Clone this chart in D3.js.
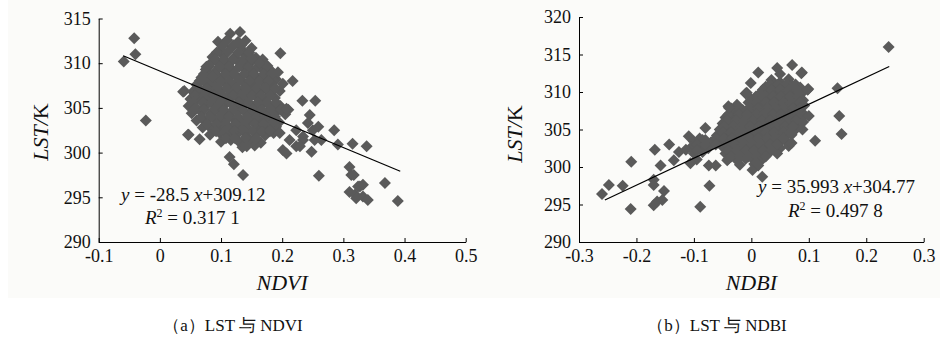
<!DOCTYPE html>
<html><head><meta charset="utf-8">
<script src="https://cdn.jsdelivr.net/npm/d3@7"></script>
<style>
html,body{margin:0;padding:0;background:#fff;}
svg{display:block;font-family:"Liberation Serif",serif;}
svg text, svg tspan{font-family:"Liberation Serif",serif !important;}
</style></head>
<body>
<svg id="chart" width="946" height="341" font-family="Liberation Serif"></svg>
<script>
// ---------- data ----------
const ndviXTicks = [-0.1, 0, 0.1, 0.2, 0.3, 0.4, 0.5];
const ndviXTickLabels = ["-0.1", "0", "0.1", "0.2", "0.3", "0.4", "0.5"];
const ndviYTicks = [290, 295, 300, 305, 310, 315];
const ndbiXTicks = [-0.3, -0.2, -0.1, 0, 0.1, 0.2, 0.3];
const ndbiXTickLabels = ["-0.3", "-0.2", "-0.1", "0", "0.1", "0.2", "0.3"];
const ndbiYTicks = [290, 295, 300, 305, 310, 315, 320];

const ndviFit = {slope: -28.5, intercept: 309.12, from: -0.06, to: 0.393};
const ndbiFit = {slope: 35.993, intercept: 304.77, from: -0.255, to: 0.24};

const ndviPoints = [
 [0.115,313.3],[0.131,313.5],
 [0.095,312.4],[0.11,312.6],[0.127,312.2],[0.14,312.5],
 [0.1,311.5],[0.118,311.8],[0.136,311.4],[0.15,311.7],
 [0.086,310.7],[0.104,310.9],[0.121,310.6],[0.141,310.9],[0.157,310.6],
 [0.082,309.9],[0.096,310.1],[0.112,309.8],[0.128,310.2],[0.145,309.9],[0.163,310.0],[0.176,309.7],
 [0.075,309.3],[0.09,309.0],[0.105,309.3],[0.12,309.1],[0.138,309.4],[0.152,309.0],[0.168,309.3],[0.184,309.0],
 [0.068,308.4],[0.083,308.6],[0.098,308.3],[0.115,308.5],[0.13,308.2],[0.146,308.6],[0.16,308.3],[0.177,308.5],[0.19,308.2],
 [0.06,307.6],[0.075,307.8],[0.09,307.5],[0.107,307.7],[0.122,307.4],[0.139,307.7],[0.155,307.5],[0.17,307.8],[0.186,307.4],
 [0.054,306.8],[0.068,307.0],[0.085,306.7],[0.1,306.9],[0.117,306.6],[0.133,306.9],[0.149,306.7],[0.165,306.9],[0.18,306.6],[0.196,306.9],
 [0.05,306.0],[0.064,306.2],[0.08,305.9],[0.095,306.1],[0.111,305.8],[0.127,306.1],[0.142,305.9],[0.158,306.2],[0.172,305.9],[0.188,306.1],
 [0.047,305.2],[0.06,305.0],[0.076,305.3],[0.092,305.1],[0.107,305.4],[0.122,305.0],[0.137,305.3],[0.153,305.1],[0.168,305.4],[0.182,305.0],[0.197,305.2],
 [0.052,304.4],[0.067,304.6],[0.083,304.3],[0.098,304.5],[0.113,304.2],[0.128,304.6],[0.145,304.3],[0.16,304.5],[0.175,304.2],[0.19,304.5],[0.205,304.3],
 [0.06,303.6],[0.075,303.4],[0.09,303.7],[0.105,303.5],[0.12,303.8],[0.135,303.5],[0.15,303.7],[0.165,303.4],[0.18,303.6],[0.195,303.4],
 [0.07,302.8],[0.085,302.6],[0.1,302.9],[0.115,302.7],[0.13,302.9],[0.145,302.6],[0.16,302.8],[0.175,302.6],[0.19,302.9],
 [0.082,302.0],[0.098,302.2],[0.112,301.9],[0.127,302.1],[0.142,301.8],[0.158,302.1],[0.172,301.9],[0.186,302.2],
 [0.1,301.2],[0.116,301.4],[0.131,301.1],[0.148,301.3],[0.165,301.1],
 [0.135,300.6],[0.155,300.8],
 [0.103,312.0],[0.12,312.0],[0.133,312.0],
 [0.093,311.2],[0.11,311.2],[0.128,311.2],[0.146,311.2],
 [0.09,310.4],[0.105,310.4],[0.12,310.4],[0.136,310.4],[0.152,310.4],[0.168,310.4],
 [0.08,309.6],[0.097,309.6],[0.113,309.6],[0.13,309.6],[0.145,309.6],[0.16,309.6],[0.175,309.6],
 [0.072,308.8],[0.09,308.8],[0.107,308.8],[0.122,308.8],[0.138,308.8],[0.153,308.8],[0.17,308.8],[0.183,308.8],
 [0.065,308.0],[0.082,308.0],[0.099,308.0],[0.114,308.0],[0.13,308.0],[0.147,308.0],[0.163,308.0],[0.178,308.0],
 [0.062,307.2],[0.077,307.2],[0.093,307.2],[0.11,307.2],[0.125,307.2],[0.141,307.2],[0.157,307.2],[0.173,307.2],[0.188,307.2],
 [0.058,306.4],[0.073,306.4],[0.088,306.4],[0.103,306.4],[0.119,306.4],[0.135,306.4],[0.15,306.4],[0.165,306.4],[0.18,306.4],
 [0.055,305.6],[0.07,305.6],[0.085,305.6],[0.1,305.6],[0.115,305.6],[0.13,305.6],[0.145,305.6],[0.16,305.6],[0.175,305.6],[0.19,305.6],
 [0.056,304.8],[0.072,304.8],[0.088,304.8],[0.104,304.8],[0.12,304.8],[0.136,304.8],[0.152,304.8],[0.167,304.8],[0.182,304.8],[0.198,304.8],
 [0.068,304.0],[0.083,304.0],[0.098,304.0],[0.113,304.0],[0.128,304.0],[0.143,304.0],[0.158,304.0],[0.173,304.0],[0.188,304.0],
 [0.078,303.2],[0.093,303.2],[0.108,303.2],[0.123,303.2],[0.14,303.2],[0.155,303.2],[0.17,303.2],[0.185,303.2],
 [0.092,302.4],[0.107,302.4],[0.122,302.4],[0.137,302.4],[0.152,302.4],[0.167,302.4],[0.18,302.4],
 [0.108,301.6],[0.123,301.6],[0.14,301.6],[0.157,301.6],
 [-0.059,310.2],[-0.042,312.8],[-0.04,311.0],[-0.023,303.6],[0.04,306.9],[0.047,302.0],[0.065,301.5],[0.114,299.5],[0.121,298.7],[0.136,297.5],
 [0.197,311.1],[0.193,309.0],[0.201,307.7],[0.217,308.0],[0.233,305.8],[0.254,305.8],[0.21,304.8],[0.245,304.2],[0.259,302.9],[0.285,302.5],
 [0.291,300.9],[0.315,301.0],[0.338,300.7],[0.248,300.1],[0.223,300.7],[0.201,300.3],[0.26,297.4],[0.31,298.4],[0.313,297.5],[0.368,296.6],
 [0.31,295.6],[0.327,296.2],[0.332,295.1],[0.319,295.3],[0.34,294.7],[0.389,294.6],[0.185,308.9],[0.163,310.0],[0.18,302.5],[0.212,301.4],
 [0.234,301.4],[0.264,301.4],[0.242,303.3],[0.25,302.5],[0.196,302.2],[0.207,299.9],[0.142,300.7],[0.038,306.8],[0.046,302.0],[0.207,304.9],
 [0.229,300.7],[0.253,301.4],[0.223,302.5],[0.234,301.8],[0.188,303.6],[0.076,309.6],[0.087,308.5],[0.098,309.6],[0.15,310.5],[0.128,312.4],
 [0.324,296.2],[0.321,294.9],[0.332,296.4],[0.317,297.5]
];

const ndbiPoints = [
 [0.035,311.6],[0.05,311.3],[0.065,311.7],
 [0.025,310.7],[0.04,310.9],[0.055,310.6],[0.07,310.9],[0.085,310.6],
 [-0.008,309.9],[0.015,309.8],[0.03,310.0],[0.045,309.7],[0.06,310.0],[0.075,309.8],[0.09,310.0],
 [0.0,309.0],[0.015,309.2],[0.03,308.9],[0.045,309.1],[0.06,308.9],[0.075,309.2],[0.09,308.9],
 [-0.04,308.1],[-0.025,308.3],[0.005,308.2],[0.02,308.0],[0.035,308.3],[0.05,308.1],[0.065,308.3],[0.08,308.0],[0.092,308.2],
 [-0.03,307.4],[-0.015,307.6],[0.0,307.3],[0.015,307.5],[0.03,307.3],[0.045,307.6],[0.06,307.4],[0.075,307.6],[0.088,307.3],
 [-0.045,306.6],[-0.03,306.4],[-0.015,306.7],[0.0,306.5],[0.015,306.7],[0.03,306.4],[0.045,306.7],[0.06,306.5],[0.075,306.7],[0.088,306.5],
 [-0.05,305.8],[-0.035,306.0],[-0.02,305.7],[-0.005,305.9],[0.01,305.7],[0.025,306.0],[0.04,305.8],[0.055,306.0],[0.07,305.7],[0.082,305.9],
 [-0.055,305.0],[-0.04,305.2],[-0.025,304.9],[-0.01,305.1],[0.005,304.9],[0.02,305.2],[0.035,305.0],[0.05,305.2],[0.065,304.9],[0.078,305.1],
 [-0.06,304.2],[-0.045,304.4],[-0.03,304.1],[-0.015,304.3],[0.0,304.1],[0.015,304.4],[0.03,304.2],[0.045,304.4],[0.06,304.1],[0.07,304.3],
 [-0.1,303.4],[-0.085,303.6],[-0.07,303.3],[-0.055,303.5],[-0.04,303.3],[-0.025,303.6],[-0.01,303.4],[0.005,303.6],[0.02,303.3],[0.035,303.5],[0.05,303.3],[0.06,303.5],
 [-0.105,302.6],[-0.09,302.8],[-0.075,302.5],[-0.05,302.7],[-0.035,302.5],[-0.02,302.8],[-0.005,302.6],[0.01,302.8],[0.025,302.5],[0.04,302.7],[0.05,302.5],
 [-0.1,301.8],[-0.085,302.0],[-0.045,301.8],[-0.03,302.0],[-0.015,301.7],[0.0,301.9],[0.015,301.7],[0.03,302.0],[0.045,301.8],
 [-0.095,301.0],[-0.04,301.1],[-0.025,300.9],[-0.01,301.1],[0.005,300.9],[0.02,301.1],
 [-0.02,300.3],[0.005,300.4],[0.012,300.2],
 [0.032,311.0],[0.047,311.0],[0.062,311.0],[0.077,311.0],
 [0.02,310.3],[0.035,310.3],[0.05,310.3],[0.065,310.3],[0.08,310.3],
 [0.008,309.4],[0.022,309.4],[0.037,309.4],[0.052,309.4],[0.067,309.4],[0.082,309.4],
 [-0.005,308.6],[0.01,308.6],[0.025,308.6],[0.04,308.6],[0.055,308.6],[0.07,308.6],[0.085,308.6],
 [-0.035,307.8],[-0.02,307.8],[-0.005,307.8],[0.012,307.8],[0.027,307.8],[0.042,307.8],[0.057,307.8],[0.072,307.8],[0.085,307.8],
 [-0.04,307.0],[-0.022,307.0],[-0.007,307.0],[0.008,307.0],[0.022,307.0],[0.037,307.0],[0.052,307.0],[0.067,307.0],[0.082,307.0],
 [-0.042,306.2],[-0.027,306.2],[-0.012,306.2],[0.003,306.2],[0.018,306.2],[0.033,306.2],[0.048,306.2],[0.063,306.2],[0.078,306.2],
 [-0.048,305.4],[-0.032,305.4],[-0.017,305.4],[-0.002,305.4],[0.013,305.4],[0.028,305.4],[0.043,305.4],[0.058,305.4],[0.072,305.4],
 [-0.05,304.6],[-0.035,304.6],[-0.02,304.6],[-0.005,304.6],[0.01,304.6],[0.025,304.6],[0.04,304.6],[0.055,304.6],[0.068,304.6],
 [-0.09,303.8],[-0.062,303.8],[-0.048,303.8],[-0.033,303.8],[-0.018,303.8],[-0.003,303.8],[0.012,303.8],[0.027,303.8],[0.042,303.8],[0.055,303.8],
 [-0.095,303.0],[-0.08,303.0],[-0.062,303.0],[-0.043,303.0],[-0.028,303.0],[-0.013,303.0],[0.002,303.0],[0.017,303.0],[0.032,303.0],[0.045,303.0],
 [-0.095,302.2],[-0.04,302.2],[-0.025,302.2],[-0.01,302.2],[0.005,302.2],[0.02,302.2],[0.035,302.2],
 [-0.035,301.4],[-0.02,301.4],[-0.005,301.4],[0.01,301.4],[0.025,301.4],
 [0.239,316.0],[0.15,310.5],[0.153,306.8],[0.157,304.4],[0.111,303.5],[0.089,305.0],[0.099,310.4],[0.088,312.6],[0.071,313.6],[0.012,312.6],
 [0.045,313.2],[0.05,312.4],[-0.001,311.2],[-0.01,309.8],[-0.039,307.9],[-0.08,305.2],[-0.109,304.1],[-0.143,303.0],[-0.168,302.3],[-0.135,300.9],
 [-0.158,300.2],[-0.209,300.7],[-0.17,298.3],[-0.17,297.6],[-0.152,296.8],[-0.155,295.6],[-0.17,294.9],[-0.164,295.4],[-0.21,294.4],[-0.224,297.5],
 [-0.248,297.6],[-0.26,296.4],[-0.089,294.7],[-0.073,297.5],[-0.106,300.5],[-0.074,300.2],[-0.062,300.2],[-0.042,300.9],[0.002,299.6],[0.019,298.7],
 [0.01,300.5],[-0.126,302.0],[-0.114,302.3],[-0.08,303.6],[0.098,310.3],[0.087,312.5],[0.1,306.8],[0.09,306.0],[0.065,302.8],[0.07,303.2]
];

// ---------- drawing ----------
const FONT = "Liberation Serif";
const svg = d3.select("#chart");
svg.append("rect").attr("x", 8).attr("y", 0).attr("width", 932).attr("height", 298).attr("fill", "#fbfbf9");

function txt(sel, size) {
  return sel.attr("font-family", FONT).style("font-family", FONT).style("font-size", size + "px").style("fill", "#111");
}

function panel(opt) {
  const x = d3.scaleLinear().domain(opt.xDomain).range(opt.xRange);
  const y = d3.scaleLinear().domain(opt.yDomain).range(opt.yRange);
  const g = svg.append("g").attr("font-family", FONT);

  const r = 6;
  g.append("g").selectAll("path").data(opt.points).join("path")
    .attr("d", d => { const cx = x(d[0]), cy = y(d[1]);
      return `M${cx},${cy - r}L${cx + r},${cy}L${cx},${cy + r}L${cx - r},${cy}Z`; })
    .attr("fill", "#5a5a5a");

  const f = opt.fit;
  g.append("line")
    .attr("x1", x(f.from)).attr("y1", y(f.slope * f.from + f.intercept))
    .attr("x2", x(f.to)).attr("y2", y(f.slope * f.to + f.intercept))
    .attr("stroke", "#000").attr("stroke-width", 1.2);

  const xAxis = d3.axisBottom(x).tickValues(opt.xTicks)
    .tickFormat((d, i) => opt.xTickLabels[i]).tickSizeInner(-4).tickSizeOuter(0).tickPadding(7);
  const yAxis = d3.axisLeft(y).tickValues(opt.yTicks)
    .tickFormat(d3.format("d")).tickSizeInner(-4).tickSizeOuter(0).tickPadding(8);

  const gx = g.append("g").attr("transform", `translate(0,${opt.yRange[0]})`).call(xAxis);
  const gy = g.append("g").attr("transform", `translate(${opt.xRange[0]},0)`).call(yAxis);
  [gx, gy].forEach(a => {
    a.attr("font-family", FONT);
    a.selectAll("path,line").attr("stroke", "#000").attr("stroke-width", 1);
    txt(a.selectAll("text"), 18);
  });

  // axis titles
  txt(g.append("text"), 22).attr("x", (opt.xRange[0] + opt.xRange[1]) / 2).attr("y", 290)
    .attr("text-anchor", "middle").style("font-style", "italic").text(opt.xTitle);
  const yt = txt(g.append("text"), 22)
    .attr("transform", `translate(${opt.yTitleX},${opt.yTitleY}) rotate(-90)`)
    .attr("text-anchor", "middle");
  yt.append("tspan").style("font-style", "italic").text("LST/");
  yt.append("tspan").text("K");

  // equation
  const e1 = txt(g.append("text"), 19).attr("x", opt.eqX).attr("y", opt.eqY);
  e1.append("tspan").style("font-style", "italic").text("y");
  e1.append("tspan").text(" = " + opt.eqSlope + " ");
  e1.append("tspan").style("font-style", "italic").text("x");
  e1.append("tspan").text("+" + opt.eqIntercept);
  const e2 = txt(g.append("text"), 19).attr("x", opt.r2X).attr("y", opt.r2Y);
  e2.append("tspan").style("font-style", "italic").text("R");
  e2.append("tspan").attr("dy", -7).style("font-size", "12px").text("2");
  e2.append("tspan").attr("dy", 7).text(" = " + opt.r2);

  // caption
  txt(g.append("text"), 17).attr("x", opt.capX).attr("y", 331).attr("text-anchor", "middle")
    .text(opt.caption);
}

panel({
  xDomain: [-0.1, 0.5], xRange: [98.7, 465.7], yDomain: [290, 315], yRange: [242, 18.5],
  xTicks: ndviXTicks, xTickLabels: ndviXTickLabels, yTicks: ndviYTicks,
  points: ndviPoints, fit: ndviFit, xTitle: "NDVI", yTitleX: 48, yTitleY: 132,
  eqX: 121, eqY: 201, eqSlope: "-28.5", eqIntercept: "309.12",
  r2X: 145, r2Y: 224, r2: "0.317 1",
  caption: "（a）LST 与 NDVI", capX: 233
});
panel({
  xDomain: [-0.3, 0.3], xRange: [579, 923.7], yDomain: [290, 320], yRange: [242, 17],
  xTicks: ndbiXTicks, xTickLabels: ndbiXTickLabels, yTicks: ndbiYTicks,
  points: ndbiPoints, fit: ndbiFit, xTitle: "NDBI", yTitleX: 522, yTitleY: 134,
  eqX: 758, eqY: 193, eqSlope: "35.993", eqIntercept: "304.77",
  r2X: 788, r2Y: 217, r2: "0.497 8",
  caption: "（b）LST 与 NDBI", capX: 717
});
</script>
</body></html>
